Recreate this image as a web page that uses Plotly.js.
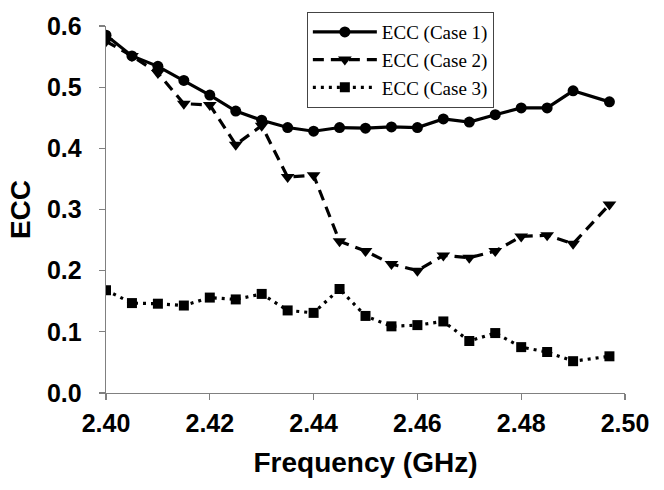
<!DOCTYPE html>
<html>
<head>
<meta charset="utf-8">
<script src="https://cdn.plot.ly/plotly-3.0.1.min.js"></script>
<style>html,body{margin:0;padding:0;background:#fff;}#chart{width:664px;height:490px;}</style>
</head>
<body>
<div id="chart"></div>
<script>
const freq = [2.400, 2.405, 2.410, 2.415, 2.420, 2.425, 2.430, 2.435, 2.440, 2.445,
              2.450, 2.455, 2.460, 2.465, 2.470, 2.475, 2.480, 2.485, 2.490, 2.497];
const ecc1 = [0.585, 0.551, 0.534, 0.511, 0.487, 0.461, 0.446, 0.434, 0.428, 0.434,
              0.433, 0.435, 0.434, 0.448, 0.443, 0.455, 0.466, 0.466, 0.494, 0.476];
const ecc2 = [0.575, 0.551, 0.523, 0.473, 0.471, 0.406, 0.437, 0.353, 0.356, 0.248,
              0.232, 0.211, 0.200, 0.225, 0.221, 0.232, 0.256, 0.258, 0.244, 0.308];
const ecc3 = [0.168, 0.147, 0.146, 0.143, 0.156, 0.153, 0.162, 0.135, 0.131, 0.170,
              0.126, 0.109, 0.111, 0.117, 0.085, 0.098, 0.075, 0.067, 0.052, 0.060];
const seriesNames = ['ECC (Case 1)', 'ECC (Case 2)', 'ECC (Case 3)'];
const xTicks = [2.40, 2.42, 2.44, 2.46, 2.48, 2.50];
const yTicks = [0.0, 0.1, 0.2, 0.3, 0.4, 0.5, 0.6];

const traces = [
  {x: freq, y: ecc1, name: seriesNames[0], mode: 'lines+markers', type: 'scatter',
   line: {color: '#000', width: 3.2, dash: 'solid'},
   marker: {symbol: 'circle', size: 11, color: '#000'}},
  {x: freq, y: ecc2, name: seriesNames[1], mode: 'lines+markers', type: 'scatter',
   line: {color: '#000', width: 3.2, dash: '11px,7px'},
   marker: {symbol: 'triangle-down', size: 12, color: '#000'}},
  {x: freq, y: ecc3, name: seriesNames[2], mode: 'lines+markers', type: 'scatter',
   line: {color: '#000', width: 3.2, dash: '3px,5px'},
   marker: {symbol: 'square', size: 10, color: '#000'}}
];

const axisCommon = {
  showgrid: false, zeroline: false, showline: true, linecolor: '#808080', linewidth: 1.3,
  ticks: 'outside', ticklen: 6, tickcolor: '#808080', tickwidth: 1.3,
  tickfont: {family: '"Liberation Sans", Arial, sans-serif', size: 25, color: '#000', weight: 'bold'}
};

const layout = {
  width: 664, height: 490,
  margin: {l: 106, r: 39, t: 19, b: 97},
  paper_bgcolor: '#fff', plot_bgcolor: '#fff',
  showlegend: true,
  legend: {
    x: 0.387, y: 1.038, xanchor: 'left', yanchor: 'top',
    bgcolor: '#fff', bordercolor: '#444', borderwidth: 1,
    font: {family: '"Liberation Serif", "Times New Roman", serif', size: 19, color: '#000'},
    itemwidth: 64, tracegroupgap: 0
  },
  xaxis: Object.assign({}, axisCommon, {
    range: [2.40, 2.50], tickvals: xTicks, tickformat: '.2f',
    ticklabelstandoff: 2,
    title: {text: 'Frequency (GHz)', standoff: 16,
            font: {family: '"Liberation Sans", Arial, sans-serif', size: 28, color: '#000', weight: 'bold'}}
  }),
  yaxis: Object.assign({}, axisCommon, {
    range: [0, 0.6], tickvals: yTicks, tickformat: '.1f',
    ticklabelstandoff: 12,
    title: {text: 'ECC', standoff: 8,
            font: {family: '"Liberation Sans", Arial, sans-serif', size: 28, color: '#000', weight: 'bold'}}
  })
};

Plotly.newPlot('chart', traces, layout, {displayModeBar: false, staticPlot: true});
</script>
</body>
</html>
